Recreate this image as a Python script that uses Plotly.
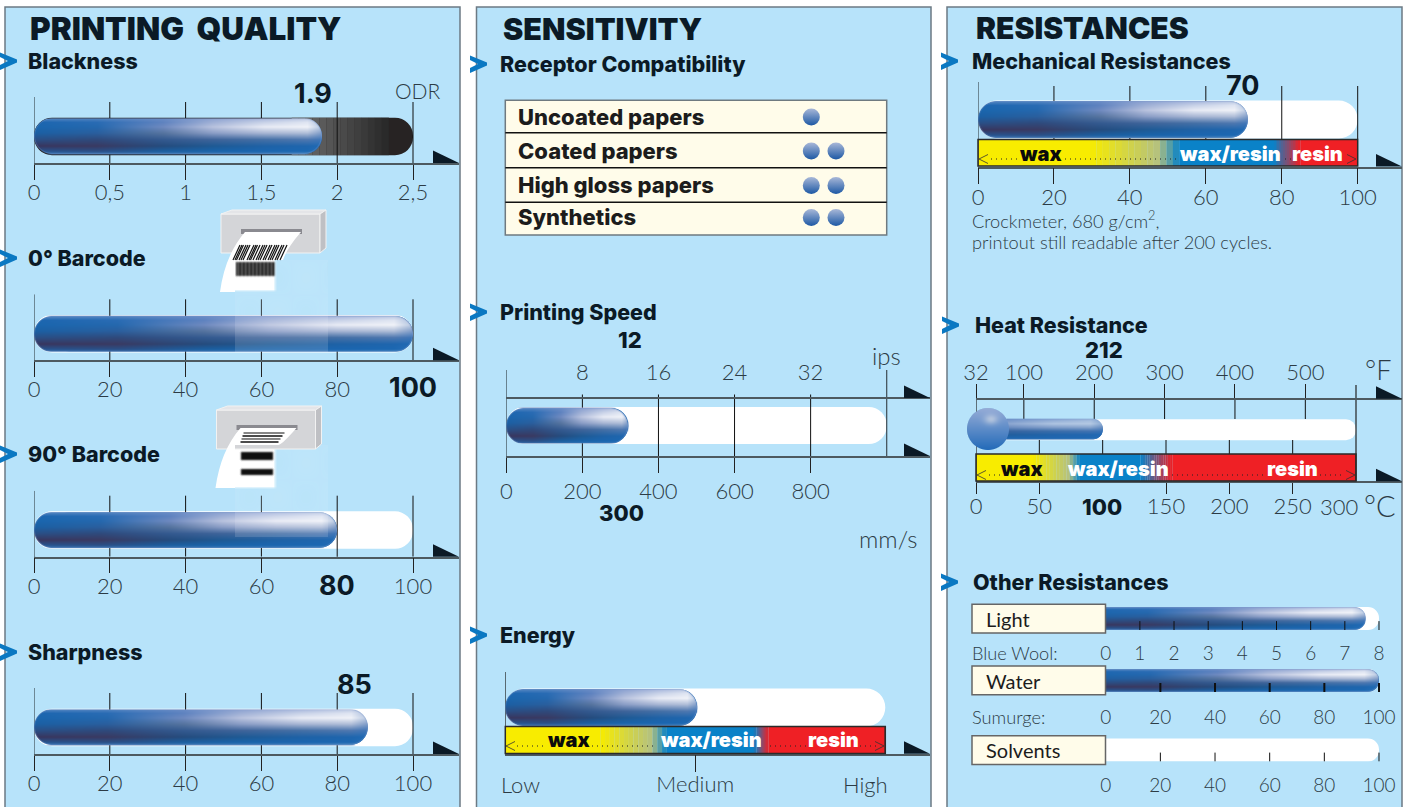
import base64, struct, zlib
import numpy as np
import plotly.graph_objects as go

# ---------- data ----------
BLACKNESS_TICKS = [0, 0.5, 1, 1.5, 2, 2.5]
BLACKNESS_LABELS = ['0', '0,5', '1', '1,5', '2', '2,5']
BLACKNESS_VALUE = 1.9
PCT_TICKS = [0, 20, 40, 60, 80, 100]
BARCODE0_VALUE = 100
BARCODE90_VALUE = 80
SHARPNESS_BAR = 88
SHARPNESS_LABEL = '85'
TABLE_ROWS = ['Uncoated papers', 'Coated papers', 'High gloss papers', 'Synthetics']
TABLE_RATINGS = [1, 2, 2, 2]
SPEED_MM_TICKS = [0, 200, 400, 600, 800, 1000]
SPEED_MM_LABELS = ['0', '200', '400', '600', '800', '']
SPEED_IPS_TICKS = [8, 16, 24, 32]
SPEED_BAR = 321
SPEED_IPS_MAX = 40
ENERGY_TICKS = [0, 1, 2]
ENERGY_BAR = 1.01
ENERGY_BAND = [0.5, 0.85, 1.31, 1.39]
MECH_VALUE = 71
MECH_BAND = [29.5, 53, 78, 85]
HEAT_C_TICKS = [0, 50, 100, 150, 200, 250, 300]
HEAT_C_LABELS = ['0', '50', '', '150', '200', '250', '']
HEAT_F_TICKS = [32, 100, 200, 300, 400, 500, 572]
HEAT_F_LABELS = ['32', '100', '200', '300', '400', '500', '']
HEAT_VALUE_C = 100
HEAT_BAND = [45, 82, 130, 155]
LIGHT_TICKS = [0, 1, 2, 3, 4, 5, 6, 7, 8]
LIGHT_VALUE = 7.6
WATER_VALUE = 100
SOLVENT_VALUE = 0

# ---------- style ----------
W, H = 1409, 807
BG = '#b7e3fa'
INK = '#0b1a26'
THIN = '#2c3b45'
CREAM = '#fffcea'
FONT = 'Lato'
HEAVY = 'Inter'
fig = go.Figure()
layout_axes, shapes, annots, images = {}, [], [], []
count = [0]


def hexrgb(c):
    return [int(c[i:i + 2], 16) for i in (1, 3, 5)]


def png_uri(a):
    a = np.clip(a, 0, 255).astype(np.uint8)
    h, w, _ = a.shape
    raw = b''.join(b'\0' + a[i].tobytes() for i in range(h))

    def chunk(t, d):
        return struct.pack('>I', len(d)) + t + d + struct.pack('>I', zlib.crc32(t + d))
    data = b'\x89PNG\r\n\x1a\n' + chunk(b'IHDR', struct.pack('>IIBBBBB', w, h, 8, 6, 0, 0, 0)) + \
        chunk(b'IDAT', zlib.compress(raw, 9)) + chunk(b'IEND', b'')
    return 'data:image/png;base64,' + base64.b64encode(data).decode()


GRID_V = [0, .12, .25, .42, .6, .78, .92, 1]
GRID_U = [0, .22, .45, .62, .8, .95, 1]
GRID = [
    ['#5c8ac4', '#5586c2', '#6a8cc6', '#8aa0d0', '#a5b5dc', '#b8c6e2', '#a0b4d8'],
    ['#1c66b0', '#2a6cb4', '#5f83c0', '#9fb0d6', '#c8d2e8', '#dfe5f2', '#a8bcdc'],
    ['#1a66ae', '#2568ae', '#6f8ac0', '#b8c2de', '#e8ebf5', '#f0f2f8', '#b5c6e0'],
    ['#1b60a4', '#2a5f9e', '#56749f', '#8a9dc6', '#a8b6d4', '#b0bed8', '#7f9cc8'],
    ['#2a4f86', '#2f4a7c', '#345a90', '#3f649a', '#4570a6', '#4f78b0', '#3f76b8'],
    ['#38365f', '#3a3a62', '#254c7e', '#1f5a94', '#1f62a6', '#1f66ae', '#1f6ab4'],
    ['#27548f', '#2b4f86', '#1c5fa0', '#1a64aa', '#1b66b0', '#1c68b2', '#2a70b8'],
    ['#3a74b4', '#3a72b0', '#3874b2', '#3a78b6', '#3c7ab8', '#4a86c0', '#5a8ec4'],
]
GRID_RGB = np.array([[hexrgb(c) for c in row] for row in GRID], float)


def shade(u, v):
    iu = np.clip(np.searchsorted(GRID_U, u) - 1, 0, len(GRID_U) - 2)
    iv = np.clip(np.searchsorted(GRID_V, v) - 1, 0, len(GRID_V) - 2)
    gu, gv = np.array(GRID_U), np.array(GRID_V)
    fu = ((u - gu[iu]) / (gu[iu + 1] - gu[iu]))[..., None]
    fv = ((v - gv[iv]) / (gv[iv + 1] - gv[iv]))[..., None]
    c00, c10 = GRID_RGB[iv, iu], GRID_RGB[iv, iu + 1]
    c01, c11 = GRID_RGB[iv + 1, iu], GRID_RGB[iv + 1, iu + 1]
    return (c00 * (1 - fu) + c10 * fu) * (1 - fv) + (c01 * (1 - fu) + c11 * fu) * fv


def capsule_png(w_px, h_px):
    w, h = int(round(w_px)), int(round(h_px))
    X, Y = np.meshgrid(np.arange(w) + .5, np.arange(h) + .5)
    r = h / 2
    d = np.hypot(X - np.clip(X, r, w - r), Y - r)
    rgb = shade(X / w, Y / h)
    rim = np.clip(d - (r - 1.6), 0, 1)[..., None]
    rgb = rgb * (1 - .3 * rim) + np.array([120, 150, 200.]) * .3 * rim
    alpha = np.clip(r - d + .5, 0, 1) * 255
    return np.dstack([rgb, alpha]), w, h


def thermo_png(stem_w, stem_h, pad, bulb_r):
    """stem with a round bulb; pixel box starts at the bulb's left edge"""
    w, h = int(round(stem_w + pad)), int(round(bulb_r * 2))
    X, Y = np.meshgrid(np.arange(w) + .5, np.arange(h) + .5)
    r = stem_h / 2
    cy = h / 2
    d1 = np.hypot(X - np.clip(X, r, w - r), Y - cy) - r
    d2 = np.hypot(X - bulb_r, Y - cy) - bulb_r
    v = np.clip((Y - (cy - r)) / (2 * r), 0, 1)
    u = np.clip(X / w * .55 + .45, 0, 1)
    rgb = shade(u, v) * .7 + np.array([40, 105, 180.]) * .3
    bv = Y / h
    bulb = np.dstack([150 - 115 * bv, 172 - 65 * bv, 215 - 30 * bv])
    hl = np.exp(-(((X - bulb_r * 1.15) / 7) ** 2 + ((Y - h * .27) / 5) ** 2))[..., None]
    bulb = bulb * (1 - .5 * hl) + 235 * .5 * hl
    m = np.clip(.5 - d2, 0, 1)[..., None]
    rgb = rgb * (1 - m) + bulb * m
    alpha = np.clip(.5 - np.minimum(d1, d2), 0, 1) * 255
    return np.dstack([rgb, alpha]), w, h


def fx(x):
    return x / W


def fy(y):
    return 1 - y / H


def new_axes(dx, dy, xr, yr, x_kw=None, visible=True):
    count[0] += 1
    n = count[0]
    s = '' if n == 1 else str(n)
    xa = dict(domain=[fx(dx[0]), fx(dx[1])], range=xr, anchor='y' + s, showgrid=False,
              zeroline=False, fixedrange=True, showline=False, ticks='', showticklabels=False)
    if not visible:
        xa['visible'] = False
    xa.update(x_kw or {})
    layout_axes['xaxis' + s] = xa
    layout_axes['yaxis' + s] = dict(domain=[fy(dy[1]), fy(dy[0])], range=yr, anchor='x' + s,
                                    visible=False, fixedrange=True, scaleanchor=False, showgrid=False,
                                    zeroline=False)
    return 'x' + s, 'y' + s


def axis_style(ticks, labels, ticklen, size=22, color='#222222', line=True, side=None, tick_color=None, standoff=0):
    kept = [(t, l) for t, l in zip(ticks, labels) if l]
    d = dict(tickmode='array', tickvals=[t for t, _ in kept], ticktext=[l for _, l in kept], ticks='outside',
             ticklen=ticklen, tickwidth=1, tickcolor=tick_color or color, showticklabels=True,
             tickfont=dict(family=FONT, size=size, color=THIN, weight=300),
             showline=line, linecolor='#4d5a60', linewidth=1.5, tickangle=0, ticklabelstandoff=standoff)
    if side:
        d['side'] = side
    return d


def bars(xa, ya, yc, h, base, length, colors, radius=None):
    marker = dict(color=colors, line=dict(width=0))
    if radius:
        marker['cornerradius'] = radius
    fig.add_trace(go.Bar(xaxis=xa, yaxis=ya, orientation='h', y=[yc] * len(base), x=length, base=base,
                         width=[h] * len(base), marker=marker, hoverinfo='skip', showlegend=False))


def lines(xa, ya, segs, color='#101010', width=1):
    xs, ys = [], []
    for x, y1, y2 in segs:
        xs += [x, x, None]
        ys += [y1, y2, None]
    fig.add_trace(go.Scatter(xaxis=xa, yaxis=ya, x=xs, y=ys, mode='lines', cliponaxis=False,
                             line=dict(color=color, width=width), hoverinfo='skip', showlegend=False))


def T(text, x, y, size, weight=400, color=THIN, anchor='left', family=None):
    font = dict(family=family or FONT, size=size, color=color, weight=weight)
    if anchor == 'left':
        x -= 2
    annots.append(dict(text=text, x=fx(x), y=fy(y), xref='paper', yref='paper', showarrow=False,
                       xanchor=anchor, yanchor='middle', font=font))


def path(points, fill=None, line=None, width=1, layer='above', close=True):
    d = 'M' + ' L'.join(f'{fx(a):.5f},{fy(b):.5f}' for a, b in points) + (' Z' if close else '')
    shapes.append(dict(type='path', path=d, xref='paper', yref='paper', fillcolor=fill or 'rgba(0,0,0,0)',
                       line=dict(color=line or 'rgba(0,0,0,0)', width=width), layer=layer))


def rect(x0, y0, x1, y1, fill=None, line=None, width=1, layer='above'):
    shapes.append(dict(type='rect', x0=fx(x0), x1=fx(x1), y0=fy(y1), y1=fy(y0), xref='paper', yref='paper',
                       fillcolor=fill or 'rgba(0,0,0,0)', line=dict(color=line or 'rgba(0,0,0,0)', width=width),
                       layer=layer))


def arrow(x1, y):
    path([(x1 - 26, y - 12.5), (x1, y), (x1 - 26, y)], fill=INK)


def chevron(x, y):
    path([(x, y - 8.5), (x + 17, y - 1.5), (x + 17, y + 1.5), (x, y + 9), (x, y + 4), (x + 8, y), (x, y - 4)],
         fill='#0a78c2')


def gradient_segments(stops, x_start, x_end, steps=14):
    """yellow -> blue -> red band cut at the four stops"""
    YEL, OLV, BLU, RED = [np.array(hexrgb(c), float) for c in ('#f8ec00', '#b6c27e', '#0a82c8', '#ef2025')]
    a, b, c, d = stops
    base, length, col = [x_start], [a - x_start], ['#f8ec00']

    def ramp(p, q, color_at):
        for i in range(steps):
            t = (i + .5) / steps
            base.append(p + (q - p) * i / steps)
            length.append((q - p) / steps * 1.02)
            col.append('rgb(%d,%d,%d)' % tuple(color_at(t)))

    def yb(t):
        return YEL + (OLV - YEL) * t / .76 if t < .76 else OLV + (BLU - OLV) * (t - .76) / .24
    ramp(a, b, yb)
    base.append(b), length.append(c - b), col.append('#0a82c8')
    ramp(c, d, lambda t: BLU + (RED - BLU) * t)
    base.append(d), length.append(x_end - d), col.append('#ef2025')
    return base, length, col


def band(xa, ya, stops, x0, x1, y0, y1, px0, px1):
    b, l, c = gradient_segments(stops, x0, x1)
    bars(xa, ya, (y0 + y1) / 2, y1 - y0, b, l, c)
    rect(px0, y0, px1, y1, line='#2a2a2a', width=1.5)


def capsule(xb, yb, x_start, sc, yc, h, value):
    arr, w, hh = capsule_png((value - x_start) * sc, h)
    fig.add_trace(go.Image(source=png_uri(arr), xaxis=xb, yaxis=yb, x0=x_start + .5 / sc, dx=1 / sc,
                           y0=yc - hh / 2 + .5, dy=1, hoverinfo='skip'))


def value_bar(xa, ya, x_start, sc, yc, h, value, color='#1f66b0'):
    """the value bar; its left end starts one radius in, the shaded picture on top gives the round cap"""
    inset = (h / 2) / sc
    bars(xa, ya, yc, h - 1, [x_start + inset], [value - x_start - inset], color, radius=h / 2 - 1)


# ---------- panels ----------
for a, b in [(5, 460), (476.5, 931), (947, 1402)]:
    rect(a, 7, b, 815, fill=BG, line='#6c7a84', width=1.5, layer='below')
T('PRINTING  QUALITY', 30, 28, 31.5, 900, INK, family=HEAVY)
T('SENSITIVITY', 503, 28, 30.5, 900, INK, family=HEAVY)
T('RESISTANCES', 976, 28, 30, 900, INK, family=HEAVY)
for lab, x, y, cx in [('Blackness', 28, 61, 0), ('0° Barcode', 28, 258, 0), ('90° Barcode', 28, 454, 0),
                      ('Sharpness', 28, 652, 0), ('Receptor Compatibility', 500, 64, 470),
                      ('Printing Speed', 500, 312, 470), ('Energy', 500, 635, 470),
                      ('Mechanical Resistances', 972, 61, 941), ('Heat Resistance', 975, 325, 942),
                      ('Other Resistances', 973, 582, 941)]:
    T(lab, x, y, 21.5, 800, INK, family=HEAVY)
    chevron(cx, y)

# ---------- left column gauges ----------
LX0, LX1, LEND = 34, 413, 459


def left_gauge(y_axis, ticks, labels, vmax, value, dark=False):
    sc = (LX1 - LX0) / vmax
    top = y_axis - 66
    yc = y_axis - 26.6
    xa, ya = new_axes([LX0, LEND], [top, y_axis], [0, (LEND - LX0) / sc], [y_axis, top],
                      axis_style(ticks, labels, 15, standoff=-6))
    if dark:
        bars(xa, ya, yc, 37.5, [0], [vmax], '#272323', radius=18.5)
        st = list(np.linspace(1.7, 2.34, 15))
        cols = ['rgb(%d,%d,%d)' % (v, v, v) for v in np.linspace(112, 42, 14)]
        bars(xa, ya, yc, 37.5, st[:-1], list(np.diff(st) * 1.02), cols)
    else:
        bars(xa, ya, yc, 37.5, [0], [vmax], '#ffffff', radius=18.5)
    value_bar(xa, ya, 0, sc, yc, 36, value)
    lines(xa, ya, [(t, y_axis - 61, y_axis if l else y_axis + 15) for t, l in zip(ticks[1:], labels[1:])])
    lines(xa, ya, [(0, top, y_axis + 15)], color='#3c4a52', width=1.2)
    lines(xa, ya, [(0, y_axis, y_axis + 15)], width=2.5)
    xb, yb = new_axes([LX0 - 6, LEND], [top, y_axis], [-6 / sc, (LEND - LX0) / sc], [y_axis, top], visible=False)
    capsule(xb, yb, 0, sc, yc, 36, value)
    arrow(LEND, y_axis)


left_gauge(163, BLACKNESS_TICKS, BLACKNESS_LABELS, 2.5, BLACKNESS_VALUE, dark=True)
T('1.9', 313, 93, 27, 700, INK, 'center', family=HEAVY)
T('ODR', 418, 90, 21, 300, THIN, 'center')
left_gauge(360.3, PCT_TICKS, ['0', '20', '40', '60', '80', ''], 100, BARCODE0_VALUE)
T('100', 413, 388, 27, 700, INK, 'center', family=HEAVY)
left_gauge(556.7, PCT_TICKS, ['0', '20', '40', '60', '', '100'], 100, BARCODE90_VALUE)
T('80', 337, 585, 27, 700, INK, 'center', family=HEAVY)
left_gauge(754, PCT_TICKS, ['0', '20', '40', '60', '80', '100'], 100, SHARPNESS_BAR)
T(SHARPNESS_LABEL, 354, 684, 27, 700, INK, 'center', family=HEAVY)

# ---------- table ----------
TX0, TX1, TDOT, TSTEP = 505.3, 886.7, 811.3, 24.7
ROW_Y = [117, 151, 185.5, 217.5]
rect(TX0, 100.3, TX1, 235, fill=CREAM, line='#6f7a80', width=1.5, layer='below')
for y in (132.7, 167.7, 202.3):
    path([(TX0, y), (TX1, y)], line='#111111', width=1.6, close=False)
for row, y in zip(TABLE_ROWS, ROW_Y):
    T(row, 518, y, 22, 800, '#1c1c1c', family=HEAVY)
txr = [1 - (TDOT - TX0) / TSTEP, 1 + (TX1 - TDOT) / TSTEP]
xa, ya = new_axes([TX0, TX1], [100, 235], txr, [235, 100], visible=False)
dot_x, dot_y = [], []
for rating, y in zip(TABLE_RATINGS, ROW_Y):
    for k in range(rating):
        dot_x.append(k + 1)
        dot_y.append(y)
fig.add_trace(go.Scatter(xaxis=xa, yaxis=ya, x=dot_x, y=dot_y, mode='markers', hoverinfo='skip', showlegend=False,
                         marker=dict(size=17, color='#a9b8d8', line=dict(width=0),
                                     gradient=dict(type='vertical', color='#1c58a4'))))

# ---------- printing speed ----------
PX0, PX1, PEND = 506.3, 886.7, 930
sc = (PX1 - PX0) / 1000
xa, ya = new_axes([PX0, PEND], [370, 456], [0, (PEND - PX0) / sc], [456, 370],
                  axis_style(SPEED_MM_TICKS, SPEED_MM_LABELS, 15))
bars(xa, ya, 425.5, 37, [0], [1000], '#ffffff', radius=18.5)
value_bar(xa, ya, 0, sc, 425.5, 36, SPEED_BAR)
count[0] += 1
x2 = 'x%d' % count[0]
ips_sc = (PX1 - PX0) / SPEED_IPS_MAX
ips = axis_style(SPEED_IPS_TICKS, [str(t) for t in SPEED_IPS_TICKS], 12, side='top', tick_color='rgba(0,0,0,0)',
                 standoff=-4)
ips.update(overlaying=xa, anchor='free', position=fy(398), range=[0, (PEND - PX0) / ips_sc],
           showgrid=False, zeroline=False, fixedrange=True)
layout_axes['xaxis%d' % count[0]] = ips
lines(x2, ya, [(t, 394.5, 456) for t in SPEED_IPS_TICKS])
lines(xa, ya, [(0, 370, 471), (1000, 370, 500)], color='#3c4a52', width=1.2)
xb, yb = new_axes([PX0 - 6, PEND], [370, 456], [-6 / sc, (PEND - PX0) / sc], [456, 370], visible=False)
capsule(xb, yb, 0, sc, 425.5, 36, SPEED_BAR)
arrow(PEND, 398)
arrow(PEND, 456)
T('12', 630, 340, 22, 800, INK, 'center', family=HEAVY)
T('300', 621, 513, 22, 800, INK, 'center', family=HEAVY)
T('ips', 886, 356, 24, 300, THIN, 'center')
T('mm/s', 888, 538, 24, 300, THIN, 'center')


def band_text(wax, mix, res, y, size=20):
    T('wax', wax, y, size, 900, '#0b0b0b', 'center', family=HEAVY)
    T('wax/resin', mix, y, size, 900, '#ffffff', 'center', family=HEAVY)
    T('resin', res, y, size, 900, '#ffffff', 'center', family=HEAVY)


def dots(y, spans, x_left, x_right):
    for a, b in spans:
        shapes.append(dict(type='line', x0=fx(a), x1=fx(b), y0=fy(y), y1=fy(y), xref='paper', yref='paper',
                           line=dict(color='#222222', width=1, dash='1px,4px'), layer='above'))
    path([(x_left + 9, y - 4.5), (x_left, y), (x_left + 9, y + 4.5)], line='#333333', width=.8, close=False)
    path([(x_right - 9, y - 4.5), (x_right, y), (x_right - 9, y + 4.5)], line='#333333', width=.8, close=False)


# ---------- energy ----------
EX0, EX1, EEND = 505.3, 885.3, 930
sc = (EX1 - EX0) / 2
xa, ya = new_axes([EX0, EEND], [672, 753.7], [0, (EEND - EX0) / sc], [753.7, 672],
                  axis_style(ENERGY_TICKS, ['', 'Medium', ''], 17, standoff=-7))
bars(xa, ya, 707.5, 38, [0], [2], '#ffffff', radius=19)
value_bar(xa, ya, 0, sc, 707.5, 37, ENERGY_BAR)
band(xa, ya, ENERGY_BAND, 0, 2, 726.5, 753.5, EX0, EX1)
lines(xa, ya, [(0, 672, 771), (2, 726, 771)], color='#222222', width=1.2)
lines(xa, ya, [(1, 753.7, 771)], width=2.2)
xb, yb = new_axes([EX0 - 6, EEND], [672, 753.7], [-6 / sc, (EEND - EX0) / sc], [753.7, 672], visible=False)
capsule(xb, yb, 0, sc, 707.5, 37, ENERGY_BAR)
arrow(EEND, 753.7)
dots(746, [(517, 544), (592, 656), (770, 806), (860, 876)], 506, 884)
band_text(568, 711, 833, 740)
T('Low', 520, 784, 22, 300, THIN, 'center')
T('High', 865, 784, 22, 300, THIN, 'center')

# ---------- mechanical ----------
MX0, MX1, MEND = 978, 1357.7, 1402
sc = (MX1 - MX0) / 100
xa, ya = new_axes([MX0, MEND], [82, 166.5], [0, (MEND - MX0) / sc], [166.5, 82],
                  axis_style(PCT_TICKS, [str(t) for t in PCT_TICKS], 16, standoff=-6))
bars(xa, ya, 119.5, 38, [0], [100], '#ffffff', radius=19)
value_bar(xa, ya, 0, sc, 119.5, 37, MECH_VALUE)
lines(xa, ya, [(t, 86, 139) for t in PCT_TICKS[1:]])
band(xa, ya, MECH_BAND, 0, 100, 139.5, 166, MX0, MX1)
lines(xa, ya, [(0, 82, 183)], color='#3c4a52', width=1.2)
xb, yb = new_axes([MX0 - 6, MEND], [82, 166.5], [-6 / sc, (MEND - MX0) / sc], [166.5, 82], visible=False)
capsule(xb, yb, 0, sc, 119.5, 37, MECH_VALUE)
arrow(MEND, 166.5)
dots(159, [(991, 1017), (1065, 1176), (1285, 1298)], 979, 1356)
band_text(1040, 1230, 1317, 154)
T('70', 1243, 85, 27, 700, INK, 'center', family=HEAVY)
T('Crockmeter, 680 g/cm<sup>2</sup>,', 972, 219, 18.2, 300, THIN)
T('printout still readable after 200 cycles.', 972, 242, 18.2, 300, THIN)

# ---------- heat ----------
HX0, HX1, HEND = 976, 1356, 1402
sc = (HX1 - HX0) / 300
xa, ya = new_axes([HX0, HEND], [385, 481.3], [0, (HEND - HX0) / sc], [481.3, 385],
                  axis_style(HEAT_C_TICKS, HEAT_C_LABELS, 10.5, standoff=-6))
bars(xa, ya, 429.7, 21, [0], [300], '#ffffff', radius=10.5)
value_bar(xa, ya, 0, sc, 429.7, 20, HEAT_VALUE_C)
band(xa, ya, HEAT_BAND, 0, 300, 454, 481, HX0, HX1)
count[0] += 1
x2 = 'x%d' % count[0]
f_sc = (HX1 - HX0) / (HEAT_F_TICKS[-1] - HEAT_F_TICKS[0])
fa = axis_style(HEAT_F_TICKS, HEAT_F_LABELS, 13.5, side='top', standoff=-4)
fa.update(overlaying=xa, anchor='free', position=fy(398.7),
          range=[HEAT_F_TICKS[0], HEAT_F_TICKS[0] + (HEND - HX0) / f_sc],
          showgrid=False, zeroline=False, fixedrange=True)
layout_axes['xaxis%d' % count[0]] = fa
lines(x2, ya, [(t, 398.7, 419) for t in HEAT_F_TICKS[1:-1]])
lines(xa, ya, [(t, 440, 454) for t in HEAT_C_TICKS[1:-1]])
lines(xa, ya, [(100, 481, 491.7)])
lines(xa, ya, [(0, 385, 491.7), (300, 385, 491.7)], color='#222222', width=1.2)
xb, yb = new_axes([950, HEND], [400, 481.3], [(950 - HX0) / sc, (HEND - HX0) / sc], [481.3, 400], visible=False)
arr, w_, h_ = thermo_png(HEAT_VALUE_C * sc, 20.7, 976 - 967, 21)
fig.add_trace(go.Image(source=png_uri(arr), xaxis=xb, yaxis=yb, x0=(967 - HX0 + .5) / sc, dx=1 / sc,
                       y0=429 - h_ / 2 + .5, dy=1, hoverinfo='skip'))
arrow(HEND, 398.7)
arrow(HEND, 481.3)
dots(475, [(989, 1000), (1172, 1265), (1320, 1343)], 977, 1355)
band_text(1021, 1118, 1292, 469)
T('212', 1104, 350, 22, 800, INK, 'center', family=HEAVY)
T('100', 1102, 507, 22, 800, INK, 'center', family=HEAVY)
T('300', 1339, 506, 22, 300, THIN, 'center')
T('°F', 1378, 369, 27, 300, THIN, 'center')
T('°C', 1380, 505, 29, 300, THIN, 'center')

# ---------- other resistances ----------
OX0, OX1, OEND = 1105.7, 1379, 1402


def other(ticks, vmax, value, box_top, yc, label_gap, tick_w, name, left_label=None, label_y=None):
    sc = (OX1 - OX0) / vmax
    yb_ = yc + 11.6
    st = axis_style(ticks, [str(t) for t in ticks], label_gap, size=19, line=False, tick_color='rgba(0,0,0,0)',
                    standoff=-5)
    xa, ya = new_axes([OX0, OEND], [yc - 14, yb_], [0, (OEND - OX0) / sc], [yb_, yc - 14], st)
    bars(xa, ya, yc, 23, [-20 / sc], [vmax + 20 / sc], '#ffffff', radius=11.5)
    if value > 0:
        value_bar(xa, ya, -20 / sc, sc, yc, 23, value)
    xb, yb = new_axes([OX0, OEND], [yc - 14, yb_], [0, (OEND - OX0) / sc], [yb_, yc - 14], visible=False)
    if value > 0:
        capsule(xb, yb, -20 / sc, sc, yc, 23, value)
    lines(xb, yb, [(t, yb_ - 9, yb_) for t in ticks[1:]], width=tick_w)
    rect(972, box_top, 1105.5, box_top + 28.7, fill=CREAM, line='#666666', width=1.5)
    T(name, 986, box_top + 14.5, 20, 400, '#1c1c1c')
    if left_label:
        T(left_label, 972, label_y, 18.2, 300, THIN)


other(LIGHT_TICKS, 8, LIGHT_VALUE, 604.3, 618.5, 11, 1, 'Light', 'Blue Wool:', 653)
other(PCT_TICKS, 100, WATER_VALUE, 666, 680.5, 13, 2, 'Water', 'Sumurge:', 717)
other(PCT_TICKS, 100, SOLVENT_VALUE, 735.7, 750, 12, 1, 'Solvents')


# ---------- printer pictograms ----------
def printer(ox, oy, horizontal, sm_x, sm_y):
    rect(ox, oy, ox + 99, oy + 39, fill='#d4d5d8', line='#f2f2f2', width=1)
    path([(ox, oy), (ox + 11, oy - 4), (ox + 105, oy - 4), (ox + 99, oy)], fill='#e4e5e8', line='#f2f2f2')
    path([(ox + 99, oy), (ox + 105, oy - 4), (ox + 105, oy + 34), (ox + 99, oy + 39)], fill='#bfc0c4', line='#f2f2f2')
    rect(ox + 20, oy + 15, ox + 81, oy + 20, fill='#8a8a90')
    yb = oy + 78
    d = (f'M{fx(ox + 24):.5f},{fy(oy + 18):.5f} L{fx(ox + 80):.5f},{fy(oy + 18):.5f} '
         f'Q{fx(ox + 66):.5f},{fy(oy + 34):.5f} {fx(ox + 62):.5f},{fy(sm_y):.5f} '
         f'L{fx(sm_x):.5f},{fy(sm_y):.5f} L{fx(sm_x):.5f},{fy(yb):.5f} '
         f'L{fx(ox - 1):.5f},{fy(yb):.5f} Q{fx(ox + 4):.5f},{fy(oy + 41):.5f} {fx(ox + 24):.5f},{fy(oy + 18):.5f} Z')
    shapes.append(dict(type='path', path=d, xref='paper', yref='paper', fillcolor='#ffffff',
                       line=dict(width=0), layer='above'))
    if horizontal:
        for i, y in enumerate((23, 26, 29, 32)):
            path([(ox + 27 - i * 1.0, oy + y), (ox + 68 - i * 2, oy + y)], line='#111111', width=1.5 if i % 2 else 1,
                 close=False)
    else:
        for q in (0, 2, 3.5, 6, 8, 10, 14, 16, 17.5, 20, 23, 25, 27, 30, 32, 35, 37, 39, 42, 44, 47):
            path([(ox + 19 + q, oy + 31), (ox + 12 + q, oy + 46)], line='#111111', width=1.2, close=False)


def smear(x0, y0, w, h, paper_w, paper_h, bar_from, horizontal):
    a = np.zeros((h, w, 4), float)
    a[..., :3] = [205, 235, 250]
    a[..., 3] = 60
    Y, X = np.mgrid[0:h, 0:w]
    a[..., 3] += 20 * np.sin(X / 9.0) * np.sin(Y / 11.0)
    lower = Y >= bar_from
    a[lower, :3] = [245, 248, 252]
    a[lower, 3] = 36
    pw = np.clip((paper_w - X) / 4., 0, 1) * np.clip((paper_h - Y) / 3., 0, 1)
    a[..., :3] = a[..., :3] * (1 - pw[..., None]) + 255 * pw[..., None]
    a[..., 3] = a[..., 3] * (1 - pw) + 255 * pw
    dark = np.zeros((h, w))
    if horizontal:
        for (p, q) in ((7, 15), (24, 30)):
            dark[p:q, 6:38] = 1
    else:
        dark[2:16, 1:40] = 1
        dark *= .8 + .2 * np.sin(X * 1.7)
    for _ in range(2):
        dark = (dark + np.roll(dark, 1, 0) + np.roll(dark, -1, 0) + np.roll(dark, 1, 1) + np.roll(dark, -1, 1)) / 5
    a[..., :3] = a[..., :3] * (1 - dark[..., None]) + 15 * dark[..., None]
    a[..., 3] = np.maximum(a[..., 3], dark * 255)
    images.append(dict(source=png_uri(a), xref='paper', yref='paper', x=fx(x0), y=fy(y0), sizex=w / W, sizey=h / H,
                       xanchor='left', yanchor='top', sizing='stretch', layer='above'))


printer(221, 214, False, 235, 260)
smear(235, 260, 93, 92, 42, 32, 55, False)
printer(216.5, 410, True, 235, 445)
smear(235, 445, 93, 92, 42, 44, 66, True)

fig.update_layout(width=W, height=H, margin=dict(l=0, r=0, t=0, b=0, autoexpand=False), autosize=False,
                  paper_bgcolor='#ffffff', plot_bgcolor='rgba(0,0,0,0)', barmode='overlay', showlegend=False,
                  hovermode=False, shapes=shapes, annotations=annots, images=images, **layout_axes)
fig.write_html('out.html', config=dict(displayModeBar=False, responsive=False),
               post_script="document.body.style.margin='0';document.documentElement.style.overflow='hidden';")
